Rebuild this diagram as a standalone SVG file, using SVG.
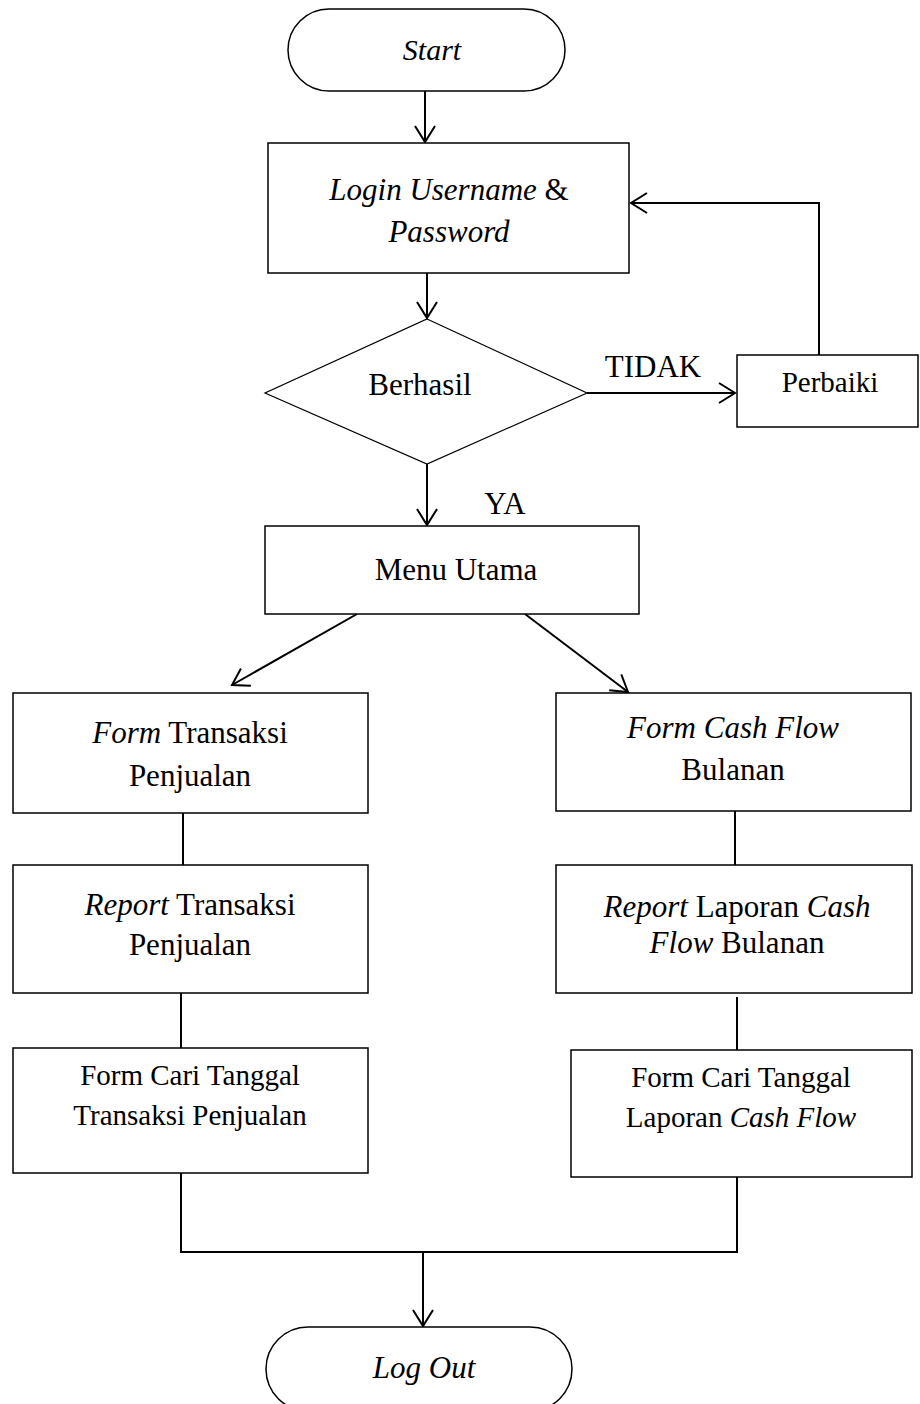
<svg xmlns="http://www.w3.org/2000/svg" width="920" height="1404" viewBox="0 0 920 1404">
<style>
.shape{fill:#fff;stroke:#000;stroke-width:1.5}
.dia{fill:#fff;stroke:#000;stroke-width:1.2}
.conn{fill:none;stroke:#000;stroke-width:2}
text{font-family:"Liberation Serif","Times New Roman",serif;fill:#000;text-anchor:middle}
.t31{font-size:31px}
.t29{font-size:29px}
.i{font-style:italic}
</style>
<defs>
<marker id="arr" markerUnits="userSpaceOnUse" markerWidth="20" markerHeight="24" viewBox="-18 -12 20 24" refX="0" refY="0" orient="auto">
<path d="M-16,-10 L0,0 L-16,10" fill="none" stroke="#000" stroke-width="2"/>
</marker>
</defs>
<g id="connectors">
<line class="conn" x1="425" y1="91" x2="425" y2="142" marker-end="url(#arr)"/>
<line class="conn" x1="427" y1="273" x2="427" y2="318" marker-end="url(#arr)"/>
<line class="conn" x1="587" y1="393" x2="735" y2="393" marker-end="url(#arr)"/>
<polyline class="conn" points="819,355 819,203 631,203" marker-end="url(#arr)"/>
<line class="conn" x1="427" y1="464" x2="427" y2="525" marker-end="url(#arr)"/>
<line class="conn" x1="357" y1="614" x2="232" y2="685" marker-end="url(#arr)"/>
<line class="conn" x1="525" y1="614" x2="628" y2="692" marker-end="url(#arr)"/>
<line class="conn" x1="183" y1="813" x2="183" y2="865"/>
<line class="conn" x1="181" y1="993" x2="181" y2="1048"/>
<line class="conn" x1="735" y1="811" x2="735" y2="865"/>
<line class="conn" x1="737" y1="997" x2="737" y2="1050"/>
<polyline class="conn" points="181,1173 181,1252 737,1252 737,1177"/>
<line class="conn" x1="423" y1="1252" x2="423" y2="1326" marker-end="url(#arr)"/>
<text class="t31" x="653" y="377">TIDAK</text>
<text class="t31" x="505" y="514">YA</text>
</g>
<g id="start">
<rect class="shape" x="288" y="9" width="277" height="82" rx="41" ry="41"/>
<text class="i" style="font-size:30px" x="432" y="60">Start</text>
</g>
<g id="login">
<rect class="shape" x="268" y="143" width="361" height="130"/>
<text class="t31" x="449" y="200"><tspan class="i">Login Username</tspan> &amp;</text>
<text class="t31 i" x="449" y="242">Password</text>
</g>
<g id="berhasil">
<polygon class="dia" points="427,319 587,393 427,464 265,393"/>
<text class="t31" x="420" y="395">Berhasil</text>
</g>
<g id="perbaiki">
<rect class="shape" x="737" y="355" width="181" height="72"/>
<text class="t29" x="830" y="392">Perbaiki</text>
</g>
<g id="menu-utama">
<rect class="shape" x="265" y="526" width="374" height="88"/>
<text class="t31" x="456" y="580">Menu Utama</text>
</g>
<g id="form-transaksi">
<rect class="shape" x="13" y="693" width="355" height="120"/>
<text class="t31" x="190" y="743"><tspan class="i">Form</tspan> Transaksi</text>
<text class="t31" x="190" y="786">Penjualan</text>
</g>
<g id="report-transaksi">
<rect class="shape" x="13" y="865" width="355" height="128"/>
<text class="t31" x="190" y="915"><tspan class="i">Report</tspan> Transaksi</text>
<text class="t31" x="190" y="955">Penjualan</text>
</g>
<g id="cari-transaksi">
<rect class="shape" x="13" y="1048" width="355" height="125"/>
<text class="t29" x="190" y="1085">Form Cari Tanggal</text>
<text class="t29" x="190" y="1125">Transaksi Penjualan</text>
</g>
<g id="form-cashflow">
<rect class="shape" x="556" y="693" width="355" height="118"/>
<text class="t31 i" x="733" y="738">Form Cash Flow</text>
<text class="t31" x="733" y="780">Bulanan</text>
</g>
<g id="report-cashflow">
<rect class="shape" x="556" y="865" width="356" height="128"/>
<text class="t31" x="737" y="917"><tspan class="i">Report</tspan> Laporan <tspan class="i">Cash</tspan></text>
<text class="t31" x="737" y="953"><tspan class="i">Flow</tspan> Bulanan</text>
</g>
<g id="cari-cashflow">
<rect class="shape" x="571" y="1050" width="341" height="127"/>
<text class="t29" x="741" y="1087">Form Cari Tanggal</text>
<text class="t29" x="741" y="1127">Laporan <tspan class="i">Cash Flow</tspan></text>
</g>
<g id="logout">
<rect class="shape" x="266" y="1327" width="306" height="84" rx="42" ry="42"/>
<text class="i" style="font-size:31px" x="424" y="1378">Log Out</text>
</g>
</svg>
